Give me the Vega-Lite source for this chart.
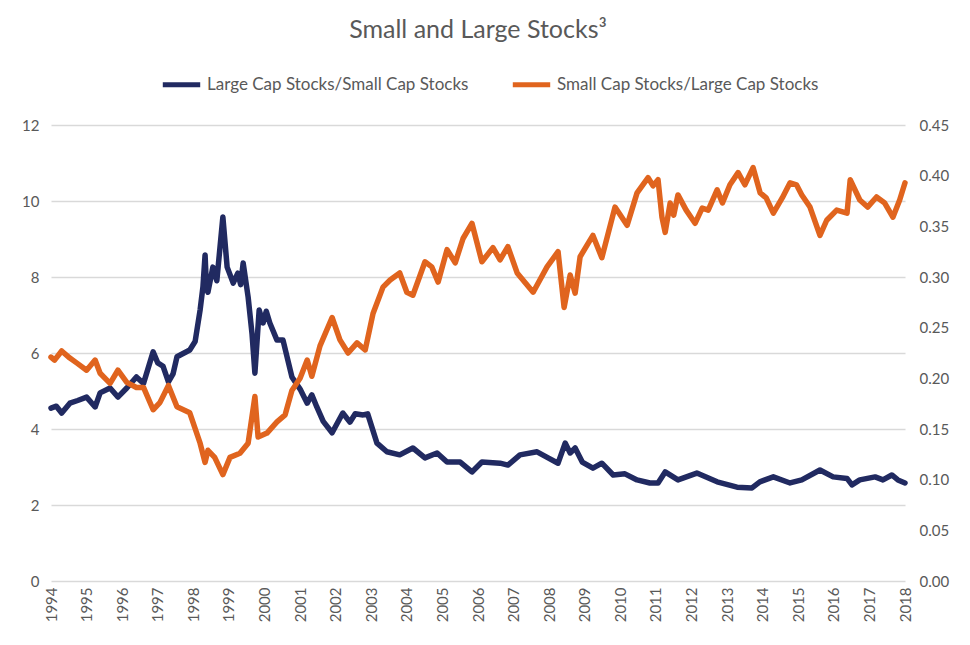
{
 "$schema": "https://vega.github.io/schema/vega-lite/v6.json",
 "autosize": "none",
 "width": 854,
 "height": 456,
 "padding": {"left": 51, "top": 125, "right": 65, "bottom": 64},
 "background": "white",
 "config": {"font": "Lato", "view": {"stroke": null}},
 "title": {"text": "Small and Large Stocks³", "fontSize": 25, "fontWeight": "normal", "color": "#595959", "font": "Lato", "anchor": "middle", "frame": "group", "offset": 20},
 "datasets": {
  "large": [
   {"t":1994.0,"v":4.55},{"t":1994.15,"v":4.6},{"t":1994.3,"v":4.42},{"t":1994.53,"v":4.68},{"t":1994.75,"v":4.75},
   {"t":1995.0,"v":4.84},{"t":1995.24,"v":4.58},{"t":1995.38,"v":4.95},{"t":1995.66,"v":5.08},{"t":1995.88,"v":4.84},
   {"t":1996.13,"v":5.08},{"t":1996.4,"v":5.37},{"t":1996.6,"v":5.2},{"t":1996.87,"v":6.03},{"t":1997.0,"v":5.74},
   {"t":1997.15,"v":5.65},{"t":1997.3,"v":5.24},{"t":1997.43,"v":5.45},{"t":1997.54,"v":5.9},{"t":1997.9,"v":6.08},
   {"t":1998.05,"v":6.3},{"t":1998.19,"v":7.13},{"t":1998.27,"v":7.74},{"t":1998.33,"v":8.58},{"t":1998.37,"v":7.7},
   {"t":1998.41,"v":7.6},{"t":1998.55,"v":8.26},{"t":1998.66,"v":7.9},{"t":1998.83,"v":9.58},{"t":1998.95,"v":8.26},
   {"t":1999.12,"v":7.84},{"t":1999.25,"v":8.1},{"t":1999.33,"v":7.8},{"t":1999.4,"v":8.37},{"t":1999.54,"v":7.47},
   {"t":1999.65,"v":6.5},{"t":1999.73,"v":5.47},{"t":1999.85,"v":7.13},{"t":1999.96,"v":6.79},{"t":2000.05,"v":7.1},
   {"t":2000.15,"v":6.79},{"t":2000.35,"v":6.34},{"t":2000.52,"v":6.34},{"t":2000.77,"v":5.37},{"t":2001.0,"v":5.05},
   {"t":2001.2,"v":4.68},{"t":2001.33,"v":4.9},{"t":2001.47,"v":4.58},{"t":2001.65,"v":4.2},{"t":2001.9,"v":3.9},
   {"t":2002.2,"v":4.42},{"t":2002.4,"v":4.18},{"t":2002.55,"v":4.4},{"t":2002.77,"v":4.37},{"t":2002.9,"v":4.4},
   {"t":2003.16,"v":3.63},{"t":2003.44,"v":3.4},{"t":2003.8,"v":3.32},{"t":2004.17,"v":3.5},{"t":2004.51,"v":3.24},
   {"t":2004.85,"v":3.37},{"t":2005.13,"v":3.13},{"t":2005.5,"v":3.13},{"t":2005.83,"v":2.87},{"t":2006.11,"v":3.13},
   {"t":2006.62,"v":3.1},{"t":2006.84,"v":3.05},{"t":2007.18,"v":3.32},{"t":2007.66,"v":3.4},{"t":2007.97,"v":3.24},
   {"t":2008.25,"v":3.1},{"t":2008.45,"v":3.63},{"t":2008.59,"v":3.37},{"t":2008.73,"v":3.5},{"t":2008.93,"v":3.13},
   {"t":2009.23,"v":2.97},{"t":2009.48,"v":3.1},{"t":2009.8,"v":2.79},{"t":2010.13,"v":2.82},{"t":2010.47,"v":2.66},
   {"t":2010.83,"v":2.58},{"t":2011.06,"v":2.58},{"t":2011.26,"v":2.87},{"t":2011.62,"v":2.66},{"t":2012.15,"v":2.84},
   {"t":2012.72,"v":2.61},{"t":2013.28,"v":2.47},{"t":2013.7,"v":2.45},{"t":2013.92,"v":2.61},{"t":2014.3,"v":2.74},
   {"t":2014.77,"v":2.58},{"t":2015.1,"v":2.66},{"t":2015.61,"v":2.92},{"t":2015.98,"v":2.74},{"t":2016.37,"v":2.7},
   {"t":2016.51,"v":2.53},{"t":2016.73,"v":2.66},{"t":2017.16,"v":2.74},{"t":2017.38,"v":2.66},{"t":2017.63,"v":2.79},
   {"t":2017.8,"v":2.66},{"t":2018.0,"v":2.58}
  ],
  "small": [
   {"t":1994.0,"v":0.221},{"t":1994.1,"v":0.218},{"t":1994.3,"v":0.227},{"t":1994.53,"v":0.22},{"t":1994.73,"v":0.215},
   {"t":1995.0,"v":0.208},{"t":1995.24,"v":0.218},{"t":1995.38,"v":0.205},{"t":1995.66,"v":0.195},{"t":1995.88,"v":0.208},
   {"t":1996.13,"v":0.196},{"t":1996.4,"v":0.191},{"t":1996.6,"v":0.191},{"t":1996.87,"v":0.169},{"t":1997.06,"v":0.176},
   {"t":1997.3,"v":0.193},{"t":1997.54,"v":0.172},{"t":1997.9,"v":0.166},{"t":1998.19,"v":0.136},{"t":1998.33,"v":0.117},
   {"t":1998.41,"v":0.129},{"t":1998.6,"v":0.122},{"t":1998.83,"v":0.105},{"t":1999.03,"v":0.122},{"t":1999.31,"v":0.126},
   {"t":1999.54,"v":0.136},{"t":1999.73,"v":0.182},{"t":1999.82,"v":0.142},{"t":2000.07,"v":0.146},{"t":2000.35,"v":0.157},
   {"t":2000.58,"v":0.164},{"t":2000.77,"v":0.188},{"t":2001.0,"v":0.2},{"t":2001.2,"v":0.218},{"t":2001.33,"v":0.202},
   {"t":2001.56,"v":0.232},{"t":2001.9,"v":0.26},{"t":2002.12,"v":0.238},{"t":2002.35,"v":0.225},{"t":2002.6,"v":0.235},
   {"t":2002.83,"v":0.228},{"t":2003.05,"v":0.264},{"t":2003.33,"v":0.29},{"t":2003.53,"v":0.297},{"t":2003.8,"v":0.304},
   {"t":2004.0,"v":0.285},{"t":2004.17,"v":0.282},{"t":2004.51,"v":0.315},{"t":2004.7,"v":0.31},{"t":2004.88,"v":0.295},
   {"t":2005.13,"v":0.327},{"t":2005.36,"v":0.314},{"t":2005.58,"v":0.338},{"t":2005.83,"v":0.353},{"t":2006.11,"v":0.315},
   {"t":2006.42,"v":0.329},{"t":2006.62,"v":0.317},{"t":2006.84,"v":0.33},{"t":2007.1,"v":0.304},{"t":2007.55,"v":0.285},
   {"t":2007.94,"v":0.31},{"t":2008.25,"v":0.325},{"t":2008.42,"v":0.27},{"t":2008.59,"v":0.302},{"t":2008.73,"v":0.284},
   {"t":2008.87,"v":0.32},{"t":2009.23,"v":0.341},{"t":2009.48,"v":0.319},{"t":2009.85,"v":0.369},{"t":2010.19,"v":0.351},
   {"t":2010.47,"v":0.383},{"t":2010.78,"v":0.398},{"t":2010.92,"v":0.39},{"t":2011.06,"v":0.396},{"t":2011.17,"v":0.359},
   {"t":2011.26,"v":0.344},{"t":2011.4,"v":0.373},{"t":2011.5,"v":0.361},{"t":2011.62,"v":0.381},{"t":2011.85,"v":0.366},
   {"t":2012.1,"v":0.353},{"t":2012.3,"v":0.368},{"t":2012.47,"v":0.366},{"t":2012.72,"v":0.386},{"t":2012.87,"v":0.373},
   {"t":2013.08,"v":0.391},{"t":2013.31,"v":0.403},{"t":2013.5,"v":0.391},{"t":2013.73,"v":0.408},{"t":2013.93,"v":0.383},
   {"t":2014.1,"v":0.378},{"t":2014.3,"v":0.363},{"t":2014.55,"v":0.378},{"t":2014.77,"v":0.393},{"t":2014.95,"v":0.391},
   {"t":2015.1,"v":0.381},{"t":2015.33,"v":0.369},{"t":2015.61,"v":0.341},{"t":2015.8,"v":0.356},{"t":2016.08,"v":0.366},
   {"t":2016.37,"v":0.363},{"t":2016.46,"v":0.396},{"t":2016.73,"v":0.376},{"t":2016.95,"v":0.369},{"t":2017.2,"v":0.379},
   {"t":2017.43,"v":0.373},{"t":2017.66,"v":0.359},{"t":2017.85,"v":0.376},{"t":2018.0,"v":0.393}
  ]
 },
 "encoding": {
  "x": {"field": "t", "type": "quantitative", "scale": {"domain": [1994, 2018], "nice": false, "zero": false},
    "axis": {"title": null, "values": [1994,1995,1996,1997,1998,1999,2000,2001,2002,2003,2004,2005,2006,2007,2008,2009,2010,2011,2012,2013,2014,2015,2016,2017,2018],
      "format": "d", "labelAngle": -90, "labelAlign": "right", "labelBaseline": "middle", "labelFontSize": 15, "labelColor": "#595959", "labelFont": "Lato",
      "labelOverlap": false, "labelFlush": false, "labelBound": false,
      "domain": false, "ticks": false, "grid": false, "labelPadding": 6}}
 },
 "layer": [
  {
   "data": {"name": "large"},
   "mark": {"type": "line", "strokeWidth": 5.5, "strokeJoin": "round", "strokeCap": "round"},
   "encoding": {
    "y": {"field": "v", "type": "quantitative", "scale": {"domain": [0, 12], "nice": false},
      "axis": {"title": null, "orient": "left", "values": [0,2,4,6,8,10,12], "labelFontSize": 15, "labelColor": "#595959", "labelFont": "Lato",
        "domain": false, "ticks": false, "grid": true, "gridColor": "#d9d9d9", "gridWidth": 1.3, "labelPadding": 12}},
    "color": {"datum": "Large Cap Stocks/Small Cap Stocks", "type": "nominal",
      "scale": {"domain": ["Large Cap Stocks/Small Cap Stocks", "Small Cap Stocks/Large Cap Stocks"], "range": ["#212a61", "#e0641e"]},
      "legend": {"title": null, "orient": "none", "direction": "horizontal", "legendX": 109, "legendY": -62,
        "symbolType": "stroke", "symbolSize": 1400, "symbolStrokeWidth": 5, "labelFontSize": 17, "labelColor": "#595959", "labelFont": "Lato",
        "labelLimit": 400, "columnPadding": 33, "labelOffset": 4}}
   }
  },
  {
   "data": {"name": "small"},
   "mark": {"type": "line", "strokeWidth": 5.5, "strokeJoin": "round", "strokeCap": "round"},
   "encoding": {
    "y": {"field": "v", "type": "quantitative", "scale": {"domain": [0, 0.45], "nice": false},
      "axis": {"title": null, "orient": "right", "values": [0,0.05,0.1,0.15,0.2,0.25,0.3,0.35,0.4,0.45], "format": ".2f", "labelFontSize": 15, "labelColor": "#595959", "labelFont": "Lato",
        "domain": false, "ticks": false, "grid": false, "labelPadding": 14}},
    "color": {"datum": "Small Cap Stocks/Large Cap Stocks", "type": "nominal"}
   }
  }
 ],
 "resolve": {"scale": {"y": "independent"}}
}
